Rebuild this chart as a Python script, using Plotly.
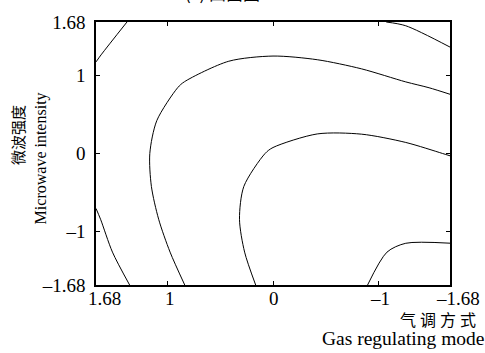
import plotly.graph_objects as go

# grid coordinates (coded levels)
gas_levels = [-1.68, -1.26, -0.84, -0.42, 0.0, 0.42, 0.84, 1.26, 1.68]
microwave_levels = [-1.68, -1.26, -0.84, -0.42, 0.0, 0.42, 0.84, 1.26, 1.68]

# response grid estimated from the contour picture (rows = microwave, cols = gas)
response = [
    [0.74, 0.96, 1.47, 2.27, 3.36, 4.74, 6.41, 8.36, 10.61],
    [1.21, 1.26, 1.59, 2.22, 3.13, 4.33, 5.82, 7.60, 9.67],
    [1.91, 1.78, 1.94, 2.39, 3.12, 4.15, 5.46, 7.07, 9.11],
    [2.84, 2.53, 2.51, 2.78, 3.34, 4.19, 5.33, 6.76, 8.47],
    [3.98, 3.50, 3.30, 3.40, 3.78, 4.45, 5.42, 6.67, 8.21],
    [5.35, 4.69, 4.32, 4.24, 4.44, 4.94, 5.73, 6.80, 8.17],
    [6.66, 6.11, 5.56, 5.30, 5.33, 5.65, 6.26, 7.16, 8.35],
    [8.31, 7.74, 7.02, 6.59, 6.44, 6.58, 7.02, 7.74, 9.05],
    [10.80, 9.05, 8.71, 8.10, 7.77, 7.74, 8.00, 8.60, 9.60],
]
contour_start, contour_end, contour_step = 1.4, 8.9, 2.5

tick_vals = [1.68, 1, 0, -1, -1.68]
tick_text = ["1.68", "1", "0", "\u20131", "\u20131.68"]

SERIF = "Liberation Serif, Times New Roman, serif"
CJK = "Noto Sans CJK SC"

fig = go.Figure()
fig.add_trace(go.Contour(
    x=gas_levels, y=microwave_levels, z=response,
    contours=dict(start=contour_start, end=contour_end, size=contour_step,
                  coloring="lines", showlabels=False),
    line=dict(color="black", width=1, smoothing=0.8),
    colorscale=[[0, "black"], [1, "black"]],
    showscale=False, hoverinfo="skip",
))

axis_common = dict(
    showline=True, linecolor="black", linewidth=1.6, mirror="ticks",
    ticks="inside", ticklen=4, tickwidth=1, tickcolor="black",
    showgrid=False, zeroline=False,
    tickvals=tick_vals, ticktext=tick_text,
    tickfont=dict(family=SERIF, size=19, color="black"),
)
fig.update_xaxes(range=[1.68, -1.68], showticklabels=False, **axis_common)
fig.update_yaxes(range=[-1.68, 1.68], ticklabelstandoff=5, **axis_common)

pw, ph, left, top = 354, 269, 96, 16
def px_x(p):
    return (p - left) / pw
def px_y(p):
    return (top + ph - p) / ph

annots = []
# x tick labels placed just under the axis (as in the reference)
x_label_shift = [8, 2, 1, 2, 8]
for v, t, s in zip(tick_vals, tick_text, x_label_shift):
    annots.append(dict(text=t, x=v, xref="x", y=px_y(286), yref="paper",
                       xanchor="center", yanchor="top", xshift=s,
                       font=dict(family=SERIF, size=19, color="black")))

for a in [
    dict(text="(c) 曲面图", x=px_x(222), y=px_y(1), xanchor="center", yanchor="bottom",
         font=dict(family=CJK, size=17, color="black")),
    dict(text="微波强度", x=px_x(17.5), y=px_y(132), xanchor="center", yanchor="middle",
         textangle=-90, font=dict(family=CJK, size=15, color="black")),
    dict(text="Microwave intensity", x=px_x(40.5), y=px_y(156), xanchor="center", yanchor="middle",
         textangle=-90, font=dict(family=SERIF, size=16, color="black")),
    dict(text="气\u2005调\u2005方\u2005式", x=px_x(478), y=px_y(320), xanchor="right", yanchor="middle",
         font=dict(family=CJK, size=16, color="black")),
    dict(text="Gas regulating mode", x=px_x(486), y=px_y(340), xanchor="right", yanchor="middle",
         font=dict(family=SERIF, size=19.5, color="black")),
]:
    a.update(xref="paper", yref="paper")
    annots.append(a)
for a in annots:
    a["showarrow"] = False

fig.update_layout(
    width=485, height=353,
    margin=dict(l=96, r=35, t=16, b=68),
    paper_bgcolor="white", plot_bgcolor="white",
    annotations=annots, showlegend=False,
)
fig.write_html("out.html")
